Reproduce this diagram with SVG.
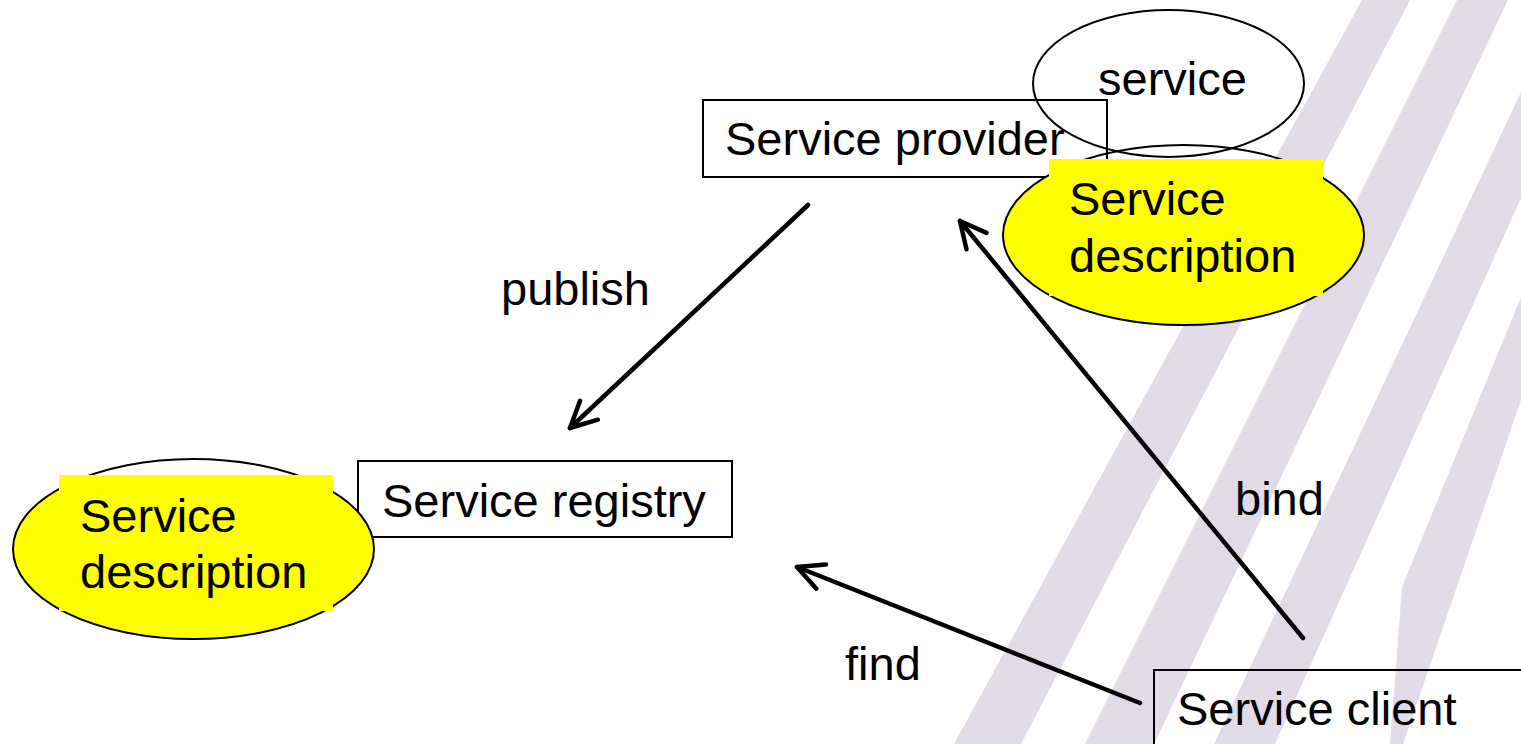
<svg xmlns="http://www.w3.org/2000/svg" width="1521" height="744" viewBox="0 0 1521 744">
<style>
text{font-family:"Liberation Sans",Arial,sans-serif;font-size:47px;fill:#000}
.box{fill:none;stroke:#000;stroke-width:2}
.stripe{fill:#E1DBE7}
.outline{fill:none;stroke:#000;stroke-width:2}
.hl{fill:#FFFF00}
.conn{stroke:#000;stroke-width:4.5;fill:none;stroke-linecap:round}
</style>
<defs>
<marker id="arr" markerUnits="userSpaceOnUse" markerWidth="40" markerHeight="40" refX="0" refY="0" viewBox="-30 -20 40 40" orient="auto" overflow="visible">
<path d="M -26 -13 L 0 0 L -26 13" fill="none" stroke="#000" stroke-width="4.5" stroke-linecap="round" stroke-linejoin="round"/>
</marker>
<clipPath id="clipR"><rect x="990" y="159" width="400" height="180"/></clipPath>
<clipPath id="clipL"><rect x="0" y="475" width="400" height="180"/></clipPath>
</defs>
<rect width="1521" height="744" fill="#fff"/>
<g id="background">
<polygon class="stripe" points="1362,0 1410,0 1021,744 954,744"/>
<polygon class="stripe" points="1457,0 1508,0 1154,744 1085,744"/>
<polygon class="stripe" points="1521,92 1521,198 1275,744 1214,744"/>
<polygon class="stripe" points="1521,297 1402,587 1390,744 1403,744 1521,400"/>
</g>
<g id="provider">
<rect class="box" x="703" y="100" width="404" height="77"/>
<text x="725" y="155">Service provider</text>
</g>
<g id="service">
<ellipse class="outline" cx="1168.5" cy="83.5" rx="135.5" ry="73.5"/>
<text x="1098" y="95">service</text>
</g>
<g id="desc-provider">
<ellipse class="hl" cx="1183.5" cy="235" rx="180.5" ry="90" clip-path="url(#clipR)"/>
<ellipse class="outline" cx="1183.5" cy="235" rx="180.5" ry="90"/>
<rect class="hl" x="1049" y="159" width="274" height="137"/>
<text x="1069" y="215">Service</text>
<text x="1069" y="272">description</text>
</g>
<g id="registry">
<rect class="box" x="358" y="461" width="374" height="76"/>
<text x="382" y="517">Service registry</text>
</g>
<g id="desc-registry">
<ellipse class="hl" cx="193.5" cy="549" rx="180.5" ry="90" clip-path="url(#clipL)"/>
<ellipse class="outline" cx="193.5" cy="549" rx="180.5" ry="90"/>
<rect class="hl" x="59" y="475" width="274" height="136"/>
<text x="80" y="532">Service</text>
<text x="80" y="588">description</text>
</g>
<g id="client">
<rect class="box" x="1154" y="670" width="380" height="90"/>
<text x="1177" y="725">Service client</text>
</g>
<g id="connectors">
<line class="conn" x1="808" y1="205" x2="570" y2="428" marker-end="url(#arr)"/>
<line class="conn" x1="1140" y1="703" x2="797" y2="567" marker-end="url(#arr)"/>
<line class="conn" x1="1303" y1="638" x2="960" y2="221" marker-end="url(#arr)"/>
<text x="501" y="305">publish</text>
<text x="845" y="680">find</text>
<text x="1235" y="515">bind</text>
</g>
</svg>
